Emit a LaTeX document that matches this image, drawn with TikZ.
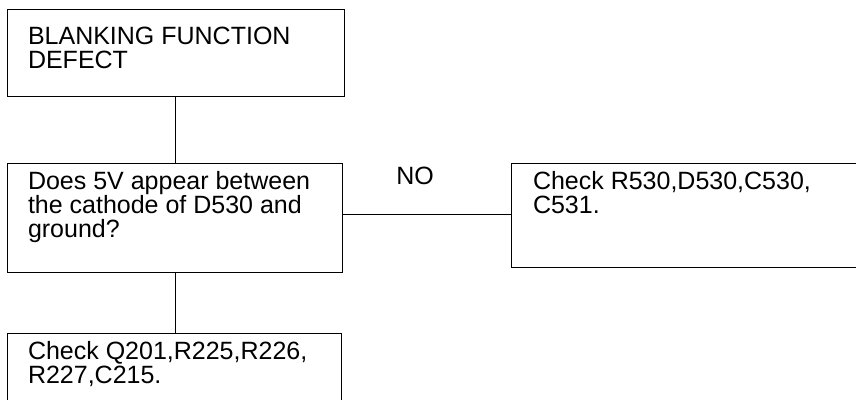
\documentclass[tikz,border=0pt]{standalone}
\usepackage{fontspec}
\setmainfont{Liberation Sans}
\begin{document}
\begin{tikzpicture}[x=1pt,y=-1pt,
  box/.style={draw, line width=1pt, inner sep=0pt, outer sep=0pt, anchor=north west},
  lbl/.style={anchor=base west, inner sep=0pt, outer sep=0pt, align=left, font=\fontsize{25}{23.3}\selectfont},
  conn/.style={line width=0.9pt}]
\useasboundingbox (0,0) rectangle (856,399);
\node[box, minimum width=337pt, minimum height=87pt] (b1) at (7,9) {};
\node[box, minimum width=335pt, minimum height=109pt] (b2) at (7,163) {};
\node[box, minimum width=334pt, minimum height=100pt] (b3) at (7,333) {};
\node[box, minimum width=360pt, minimum height=104pt] (b4) at (511,163) {};
\node[lbl] (t1) at (28,68) {BLANKING FUNCTION\\DEFECT};
\node[lbl] (t2) at (28,237) {Does 5V appear between\\the cathode of D530 and\\ground?};
\node[lbl] (t3) at (28,383) {Check Q201,R225,R226,\\R227,C215.};
\node[lbl] (t4) at (533,213) {Check R530,D530,C530,\\C531.};
\node[lbl, anchor=base] (no) at (415,184) {NO};
\coordinate (hy) at (0,214);
\draw[conn] (b1.south) -- (b1.south |- b2.north);
\draw[conn] (b1.south |- b2.south) -- (b1.south |- b3.north);
\draw[conn] (b2.east |- hy) -- (b4.west |- hy);
\end{tikzpicture}
\end{document}
